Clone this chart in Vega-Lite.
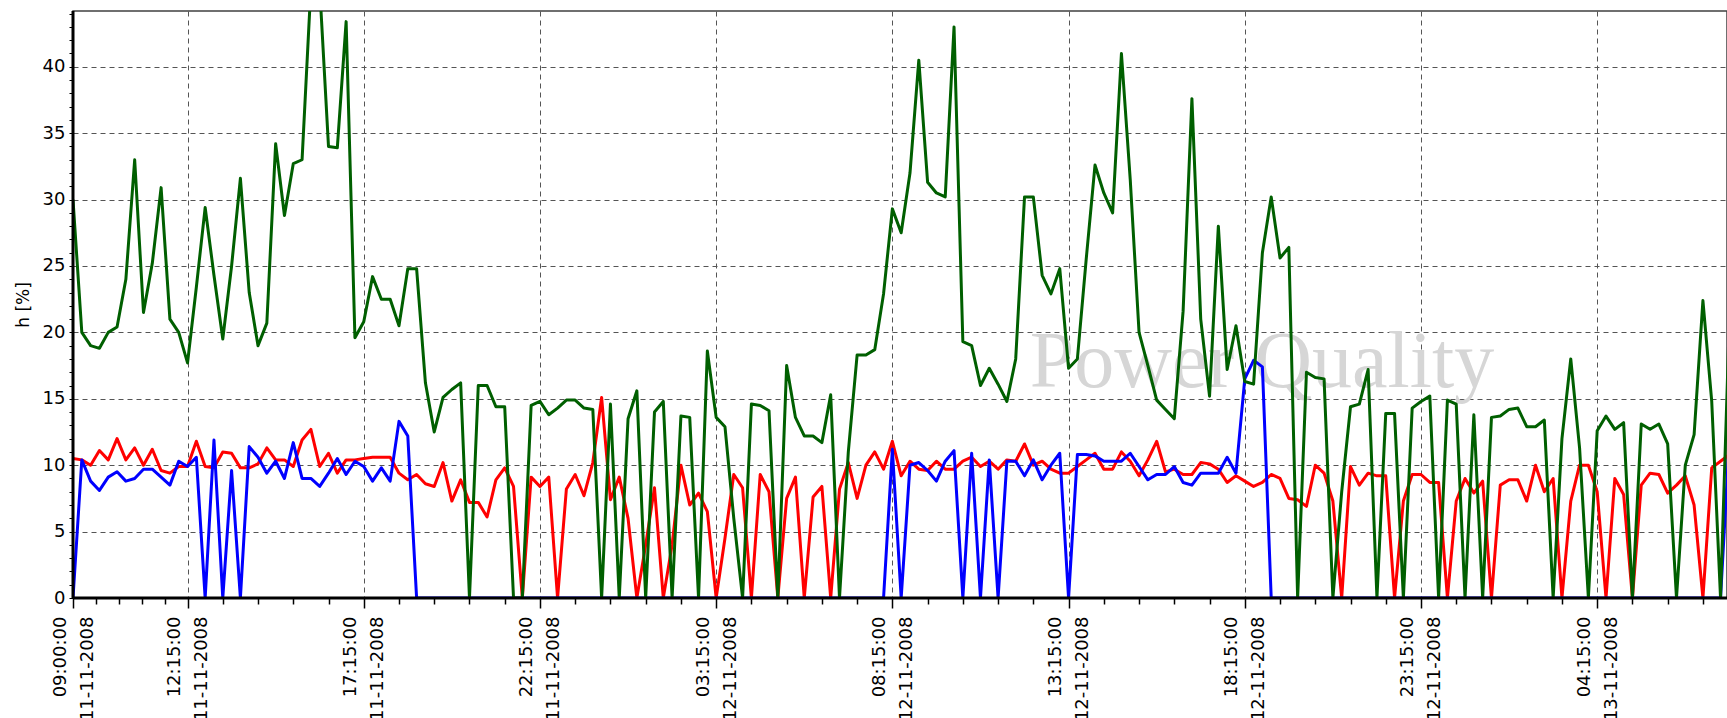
{
  "$schema": "https://vega.github.io/schema/vega-lite/v6.json",
  "width": 1654,
  "height": 587,
  "autosize": {"type": "none"},
  "padding": {"left": 73, "top": 11, "right": 0, "bottom": 120},
  "background": "white",
  "config": {"view": {"stroke": "#404040", "strokeWidth": 1.5}, "font": "DejaVu Sans"},
  "layer": [
    {
      "data": {"values": [{}]},
      "mark": {"type": "text", "text": "Power Quality", "font": "Liberation Serif", "fontSize": 80, "color": "#d6d6d6", "align": "left", "baseline": "alphabetic"},
      "encoding": {
        "x": {"datum": {"year": 2008, "month": 11, "date": 12, "hours": 12, "minutes": 9}, "type": "temporal", "scale": {"domain": [{"year": 2008, "month": 11, "date": 11, "hours": 9}, {"year": 2008, "month": 11, "date": 13, "hours": 7, "minutes": 56}]}},
        "y": {"datum": 15.9, "type": "quantitative", "scale": {"domain": [0, 44.2], "nice": false}}
      }
    },
    {
      "data": {"values": [
        {"t":"2008-11-11T09:00","g":30,"r":10.5,"b":0},
        {"t":"2008-11-11T09:15","g":20,"r":10.4,"b":10.4},
        {"t":"2008-11-11T09:30","g":19,"r":10.0,"b":8.8},
        {"t":"2008-11-11T09:45","g":18.8,"r":11.1,"b":8.1},
        {"t":"2008-11-11T10:00","g":20,"r":10.4,"b":9.1},
        {"t":"2008-11-11T10:15","g":20.4,"r":12.0,"b":9.5},
        {"t":"2008-11-11T10:30","g":24,"r":10.4,"b":8.8},
        {"t":"2008-11-11T10:45","g":33,"r":11.3,"b":9.0},
        {"t":"2008-11-11T11:00","g":21.5,"r":10.0,"b":9.7},
        {"t":"2008-11-11T11:15","g":25.2,"r":11.2,"b":9.7},
        {"t":"2008-11-11T11:30","g":30.9,"r":9.6,"b":9.1},
        {"t":"2008-11-11T11:45","g":21,"r":9.4,"b":8.5},
        {"t":"2008-11-11T12:00","g":20,"r":9.9,"b":10.3},
        {"t":"2008-11-11T12:15","g":17.7,"r":9.9,"b":9.9},
        {"t":"2008-11-11T12:30","g":23.4,"r":11.8,"b":10.6},
        {"t":"2008-11-11T12:45","g":29.4,"r":9.9,"b":0},
        {"t":"2008-11-11T13:00","g":24.3,"r":9.8,"b":11.9},
        {"t":"2008-11-11T13:15","g":19.5,"r":11.0,"b":0},
        {"t":"2008-11-11T13:30","g":25,"r":10.9,"b":9.6},
        {"t":"2008-11-11T13:45","g":31.6,"r":9.8,"b":0},
        {"t":"2008-11-11T14:00","g":23,"r":9.8,"b":11.4},
        {"t":"2008-11-11T14:15","g":19,"r":10.1,"b":10.6},
        {"t":"2008-11-11T14:30","g":20.7,"r":11.3,"b":9.4},
        {"t":"2008-11-11T14:45","g":34.2,"r":10.4,"b":10.3},
        {"t":"2008-11-11T15:00","g":28.8,"r":10.4,"b":9.0},
        {"t":"2008-11-11T15:15","g":32.7,"r":9.9,"b":11.7},
        {"t":"2008-11-11T15:30","g":33,"r":11.9,"b":9.0},
        {"t":"2008-11-11T15:45","g":46,"r":12.7,"b":9.0},
        {"t":"2008-11-11T16:00","g":46,"r":9.9,"b":8.4},
        {"t":"2008-11-11T16:15","g":34,"r":10.9,"b":9.4},
        {"t":"2008-11-11T16:30","g":33.9,"r":9.4,"b":10.5},
        {"t":"2008-11-11T16:45","g":43.4,"r":10.4,"b":9.3},
        {"t":"2008-11-11T17:00","g":19.6,"r":10.4,"b":10.3},
        {"t":"2008-11-11T17:15","g":20.8,"r":10.5,"b":9.9},
        {"t":"2008-11-11T17:30","g":24.2,"r":10.6,"b":8.8},
        {"t":"2008-11-11T17:45","g":22.5,"r":10.6,"b":9.8},
        {"t":"2008-11-11T18:00","g":22.5,"r":10.6,"b":8.8},
        {"t":"2008-11-11T18:15","g":20.5,"r":9.4,"b":13.3},
        {"t":"2008-11-11T18:30","g":24.8,"r":8.9,"b":12.2},
        {"t":"2008-11-11T18:45","g":24.8,"r":9.3,"b":0},
        {"t":"2008-11-11T19:00","g":16.2,"r":8.6,"b":0},
        {"t":"2008-11-11T19:15","g":12.5,"r":8.4,"b":0},
        {"t":"2008-11-11T19:30","g":15.1,"r":10.2,"b":0},
        {"t":"2008-11-11T19:45","g":15.7,"r":7.3,"b":0},
        {"t":"2008-11-11T20:00","g":16.2,"r":8.9,"b":0},
        {"t":"2008-11-11T20:15","g":0,"r":7.2,"b":0},
        {"t":"2008-11-11T20:30","g":16,"r":7.2,"b":0},
        {"t":"2008-11-11T20:45","g":16,"r":6.1,"b":0},
        {"t":"2008-11-11T21:00","g":14.4,"r":8.9,"b":0},
        {"t":"2008-11-11T21:15","g":14.4,"r":9.8,"b":0},
        {"t":"2008-11-11T21:30","g":0,"r":8.4,"b":0},
        {"t":"2008-11-11T21:45","g":0,"r":0,"b":0},
        {"t":"2008-11-11T22:00","g":14.5,"r":9.1,"b":0},
        {"t":"2008-11-11T22:15","g":14.8,"r":8.4,"b":0},
        {"t":"2008-11-11T22:30","g":13.8,"r":9.1,"b":0},
        {"t":"2008-11-11T22:45","g":14.3,"r":0,"b":0},
        {"t":"2008-11-11T23:00","g":14.9,"r":8.2,"b":0},
        {"t":"2008-11-11T23:15","g":14.9,"r":9.3,"b":0},
        {"t":"2008-11-11T23:30","g":14.3,"r":7.7,"b":0},
        {"t":"2008-11-11T23:45","g":14.2,"r":10.2,"b":0},
        {"t":"2008-11-12T00:00","g":0,"r":15.1,"b":0},
        {"t":"2008-11-12T00:15","g":14.6,"r":7.4,"b":0},
        {"t":"2008-11-12T00:30","g":0,"r":9.1,"b":0},
        {"t":"2008-11-12T00:45","g":13.5,"r":6,"b":0},
        {"t":"2008-11-12T01:00","g":15.6,"r":0,"b":0},
        {"t":"2008-11-12T01:15","g":0,"r":4,"b":0},
        {"t":"2008-11-12T01:30","g":14,"r":8.3,"b":0},
        {"t":"2008-11-12T01:45","g":14.8,"r":0,"b":0},
        {"t":"2008-11-12T02:00","g":0,"r":4,"b":0},
        {"t":"2008-11-12T02:15","g":13.7,"r":10,"b":0},
        {"t":"2008-11-12T02:30","g":13.6,"r":7,"b":0},
        {"t":"2008-11-12T02:45","g":0,"r":7.9,"b":0},
        {"t":"2008-11-12T03:00","g":18.6,"r":6.5,"b":0},
        {"t":"2008-11-12T03:15","g":13.6,"r":0,"b":0},
        {"t":"2008-11-12T03:30","g":12.9,"r":4.5,"b":0},
        {"t":"2008-11-12T03:45","g":6,"r":9.3,"b":0},
        {"t":"2008-11-12T04:00","g":0,"r":8.3,"b":0},
        {"t":"2008-11-12T04:15","g":14.6,"r":0,"b":0},
        {"t":"2008-11-12T04:30","g":14.5,"r":9.3,"b":0},
        {"t":"2008-11-12T04:45","g":14.1,"r":8,"b":0},
        {"t":"2008-11-12T05:00","g":0,"r":0,"b":0},
        {"t":"2008-11-12T05:15","g":17.5,"r":7.5,"b":0},
        {"t":"2008-11-12T05:30","g":13.6,"r":9.1,"b":0},
        {"t":"2008-11-12T05:45","g":12.2,"r":0,"b":0},
        {"t":"2008-11-12T06:00","g":12.2,"r":7.6,"b":0},
        {"t":"2008-11-12T06:15","g":11.7,"r":8.4,"b":0},
        {"t":"2008-11-12T06:30","g":15.3,"r":0,"b":0},
        {"t":"2008-11-12T06:45","g":0,"r":8.2,"b":0},
        {"t":"2008-11-12T07:00","g":11,"r":10.2,"b":0},
        {"t":"2008-11-12T07:15","g":18.3,"r":7.5,"b":0},
        {"t":"2008-11-12T07:30","g":18.3,"r":10,"b":0},
        {"t":"2008-11-12T07:45","g":18.7,"r":11,"b":0},
        {"t":"2008-11-12T08:00","g":22.9,"r":9.7,"b":0},
        {"t":"2008-11-12T08:15","g":29.3,"r":11.8,"b":11.2},
        {"t":"2008-11-12T08:30","g":27.5,"r":9.2,"b":0},
        {"t":"2008-11-12T08:45","g":32,"r":10.3,"b":10},
        {"t":"2008-11-12T09:00","g":40.5,"r":9.7,"b":10.2},
        {"t":"2008-11-12T09:15","g":31.3,"r":9.6,"b":9.6},
        {"t":"2008-11-12T09:30","g":30.5,"r":10.3,"b":8.8},
        {"t":"2008-11-12T09:45","g":30.2,"r":9.7,"b":10.3},
        {"t":"2008-11-12T10:00","g":43,"r":9.7,"b":11.1},
        {"t":"2008-11-12T10:15","g":19.3,"r":10.3,"b":0},
        {"t":"2008-11-12T10:30","g":19,"r":10.6,"b":10.9},
        {"t":"2008-11-12T10:45","g":16,"r":9.9,"b":0},
        {"t":"2008-11-12T11:00","g":17.3,"r":10.3,"b":10.4},
        {"t":"2008-11-12T11:15","g":16.1,"r":9.7,"b":0},
        {"t":"2008-11-12T11:30","g":14.8,"r":10.4,"b":10.3},
        {"t":"2008-11-12T11:45","g":18,"r":10.3,"b":10.3},
        {"t":"2008-11-12T12:00","g":30.2,"r":11.6,"b":9.2},
        {"t":"2008-11-12T12:15","g":30.2,"r":10,"b":10.4},
        {"t":"2008-11-12T12:30","g":24.3,"r":10.3,"b":8.9},
        {"t":"2008-11-12T12:45","g":22.9,"r":9.7,"b":10},
        {"t":"2008-11-12T13:00","g":24.8,"r":9.4,"b":10.9},
        {"t":"2008-11-12T13:15","g":17.3,"r":9.4,"b":0},
        {"t":"2008-11-12T13:30","g":18,"r":9.9,"b":10.8},
        {"t":"2008-11-12T13:45","g":25.5,"r":10.4,"b":10.8},
        {"t":"2008-11-12T14:00","g":32.6,"r":10.9,"b":10.7},
        {"t":"2008-11-12T14:15","g":30.5,"r":9.7,"b":10.3},
        {"t":"2008-11-12T14:30","g":29,"r":9.7,"b":10.3},
        {"t":"2008-11-12T14:45","g":41,"r":11,"b":10.3},
        {"t":"2008-11-12T15:00","g":31.5,"r":10.3,"b":10.9},
        {"t":"2008-11-12T15:15","g":20,"r":9.2,"b":9.9},
        {"t":"2008-11-12T15:30","g":17.5,"r":10.4,"b":8.9},
        {"t":"2008-11-12T15:45","g":14.9,"r":11.8,"b":9.3},
        {"t":"2008-11-12T16:00","g":14.2,"r":9.5,"b":9.3},
        {"t":"2008-11-12T16:15","g":13.5,"r":9.7,"b":9.9},
        {"t":"2008-11-12T16:30","g":21.6,"r":9.3,"b":8.7},
        {"t":"2008-11-12T16:45","g":37.6,"r":9.3,"b":8.5},
        {"t":"2008-11-12T17:00","g":21,"r":10.2,"b":9.4},
        {"t":"2008-11-12T17:15","g":15.2,"r":10.1,"b":9.4},
        {"t":"2008-11-12T17:30","g":28,"r":9.7,"b":9.4},
        {"t":"2008-11-12T17:45","g":17.2,"r":8.7,"b":10.6},
        {"t":"2008-11-12T18:00","g":20.5,"r":9.2,"b":9.4},
        {"t":"2008-11-12T18:15","g":16.3,"r":8.8,"b":16.5},
        {"t":"2008-11-12T18:30","g":16.1,"r":8.4,"b":17.9},
        {"t":"2008-11-12T18:45","g":26,"r":8.7,"b":17.4},
        {"t":"2008-11-12T19:00","g":30.2,"r":9.3,"b":0},
        {"t":"2008-11-12T19:15","g":25.6,"r":9,"b":0},
        {"t":"2008-11-12T19:30","g":26.4,"r":7.5,"b":0},
        {"t":"2008-11-12T19:45","g":0,"r":7.4,"b":0},
        {"t":"2008-11-12T20:00","g":17,"r":6.9,"b":0},
        {"t":"2008-11-12T20:15","g":16.6,"r":10,"b":0},
        {"t":"2008-11-12T20:30","g":16.5,"r":9.4,"b":0},
        {"t":"2008-11-12T20:45","g":0,"r":7.3,"b":0},
        {"t":"2008-11-12T21:00","g":8,"r":0,"b":0},
        {"t":"2008-11-12T21:15","g":14.4,"r":9.9,"b":0},
        {"t":"2008-11-12T21:30","g":14.6,"r":8.5,"b":0},
        {"t":"2008-11-12T21:45","g":17.2,"r":9.4,"b":0},
        {"t":"2008-11-12T22:00","g":0,"r":9.2,"b":0},
        {"t":"2008-11-12T22:15","g":13.9,"r":9.2,"b":0},
        {"t":"2008-11-12T22:30","g":13.9,"r":0,"b":0},
        {"t":"2008-11-12T22:45","g":0,"r":7.3,"b":0},
        {"t":"2008-11-12T23:00","g":14.3,"r":9.3,"b":0},
        {"t":"2008-11-12T23:15","g":14.8,"r":9.3,"b":0},
        {"t":"2008-11-12T23:30","g":15.2,"r":8.7,"b":0},
        {"t":"2008-11-12T23:45","g":0,"r":8.7,"b":0},
        {"t":"2008-11-13T00:00","g":14.9,"r":0,"b":0},
        {"t":"2008-11-13T00:15","g":14.6,"r":7.3,"b":0},
        {"t":"2008-11-13T00:30","g":0,"r":9,"b":0},
        {"t":"2008-11-13T00:45","g":13.8,"r":7.9,"b":0},
        {"t":"2008-11-13T01:00","g":0,"r":8.8,"b":0},
        {"t":"2008-11-13T01:15","g":13.6,"r":0,"b":0},
        {"t":"2008-11-13T01:30","g":13.7,"r":8.5,"b":0},
        {"t":"2008-11-13T01:45","g":14.2,"r":8.9,"b":0},
        {"t":"2008-11-13T02:00","g":14.3,"r":8.9,"b":0},
        {"t":"2008-11-13T02:15","g":12.9,"r":7.3,"b":0},
        {"t":"2008-11-13T02:30","g":12.9,"r":10,"b":0},
        {"t":"2008-11-13T02:45","g":13.4,"r":8,"b":0},
        {"t":"2008-11-13T03:00","g":0,"r":9,"b":0},
        {"t":"2008-11-13T03:15","g":12,"r":0,"b":0},
        {"t":"2008-11-13T03:30","g":18,"r":7.3,"b":0},
        {"t":"2008-11-13T03:45","g":11.3,"r":10,"b":0},
        {"t":"2008-11-13T04:00","g":0,"r":10,"b":0},
        {"t":"2008-11-13T04:15","g":12.6,"r":8,"b":0},
        {"t":"2008-11-13T04:30","g":13.7,"r":0,"b":0},
        {"t":"2008-11-13T04:45","g":12.7,"r":9,"b":0},
        {"t":"2008-11-13T05:00","g":13.2,"r":7.8,"b":0},
        {"t":"2008-11-13T05:15","g":0,"r":0,"b":0},
        {"t":"2008-11-13T05:30","g":13.1,"r":8.5,"b":0},
        {"t":"2008-11-13T05:45","g":12.7,"r":9.4,"b":0},
        {"t":"2008-11-13T06:00","g":13.1,"r":9.3,"b":0},
        {"t":"2008-11-13T06:15","g":11.6,"r":7.9,"b":0},
        {"t":"2008-11-13T06:30","g":0,"r":8.5,"b":0},
        {"t":"2008-11-13T06:45","g":10,"r":9.2,"b":0},
        {"t":"2008-11-13T07:00","g":12.3,"r":7,"b":0},
        {"t":"2008-11-13T07:15","g":22.4,"r":0,"b":0},
        {"t":"2008-11-13T07:30","g":14.8,"r":9.8,"b":0},
        {"t":"2008-11-13T07:45","g":0,"r":10.3,"b":0},
        {"t":"2008-11-13T08:00","g":21,"r":10.8,"b":12}
      ]},
      "encoding": {
        "x": {
          "field": "t", "type": "temporal",
          "scale": {"domain": [{"year": 2008, "month": 11, "date": 11, "hours": 9}, {"year": 2008, "month": 11, "date": 13, "hours": 7, "minutes": 56}]},
          "axis": {
            "title": null,
            "domain": false,
            "tickCount": 1000,
            "values": [
              {"year":2008,"month":11,"date":11,"hours":9,"minutes":0},
              {"year":2008,"month":11,"date":11,"hours":9,"minutes":39},
              {"year":2008,"month":11,"date":11,"hours":10,"minutes":18},
              {"year":2008,"month":11,"date":11,"hours":10,"minutes":57},
              {"year":2008,"month":11,"date":11,"hours":11,"minutes":36},
              {"year":2008,"month":11,"date":11,"hours":12,"minutes":15},
              {"year":2008,"month":11,"date":11,"hours":13,"minutes":15},
              {"year":2008,"month":11,"date":11,"hours":14,"minutes":15},
              {"year":2008,"month":11,"date":11,"hours":15,"minutes":15},
              {"year":2008,"month":11,"date":11,"hours":16,"minutes":15},
              {"year":2008,"month":11,"date":11,"hours":17,"minutes":15},
              {"year":2008,"month":11,"date":11,"hours":18,"minutes":15},
              {"year":2008,"month":11,"date":11,"hours":19,"minutes":15},
              {"year":2008,"month":11,"date":11,"hours":20,"minutes":15},
              {"year":2008,"month":11,"date":11,"hours":21,"minutes":15},
              {"year":2008,"month":11,"date":11,"hours":22,"minutes":15},
              {"year":2008,"month":11,"date":11,"hours":23,"minutes":15},
              {"year":2008,"month":11,"date":12,"hours":0,"minutes":15},
              {"year":2008,"month":11,"date":12,"hours":1,"minutes":15},
              {"year":2008,"month":11,"date":12,"hours":2,"minutes":15},
              {"year":2008,"month":11,"date":12,"hours":3,"minutes":15},
              {"year":2008,"month":11,"date":12,"hours":4,"minutes":15},
              {"year":2008,"month":11,"date":12,"hours":5,"minutes":15},
              {"year":2008,"month":11,"date":12,"hours":6,"minutes":15},
              {"year":2008,"month":11,"date":12,"hours":7,"minutes":15},
              {"year":2008,"month":11,"date":12,"hours":8,"minutes":15},
              {"year":2008,"month":11,"date":12,"hours":9,"minutes":15},
              {"year":2008,"month":11,"date":12,"hours":10,"minutes":15},
              {"year":2008,"month":11,"date":12,"hours":11,"minutes":15},
              {"year":2008,"month":11,"date":12,"hours":12,"minutes":15},
              {"year":2008,"month":11,"date":12,"hours":13,"minutes":15},
              {"year":2008,"month":11,"date":12,"hours":14,"minutes":15},
              {"year":2008,"month":11,"date":12,"hours":15,"minutes":15},
              {"year":2008,"month":11,"date":12,"hours":16,"minutes":15},
              {"year":2008,"month":11,"date":12,"hours":17,"minutes":15},
              {"year":2008,"month":11,"date":12,"hours":18,"minutes":15},
              {"year":2008,"month":11,"date":12,"hours":19,"minutes":15},
              {"year":2008,"month":11,"date":12,"hours":20,"minutes":15},
              {"year":2008,"month":11,"date":12,"hours":21,"minutes":15},
              {"year":2008,"month":11,"date":12,"hours":22,"minutes":15},
              {"year":2008,"month":11,"date":12,"hours":23,"minutes":15},
              {"year":2008,"month":11,"date":13,"hours":0,"minutes":15},
              {"year":2008,"month":11,"date":13,"hours":1,"minutes":15},
              {"year":2008,"month":11,"date":13,"hours":2,"minutes":15},
              {"year":2008,"month":11,"date":13,"hours":3,"minutes":15},
              {"year":2008,"month":11,"date":13,"hours":4,"minutes":15},
              {"year":2008,"month":11,"date":13,"hours":5,"minutes":15},
              {"year":2008,"month":11,"date":13,"hours":6,"minutes":15},
              {"year":2008,"month":11,"date":13,"hours":7,"minutes":15}
            ],
            "labelExpr": "((datum.value - datetime(2008,10,11,12,15)) % 18000000 === 0 || (datum.value - datetime(2008,10,11,9,0)) === 0) ? [timeFormat(datum.value, '%H:%M:%S'), timeFormat(datum.value, '%d-%m-%Y')] : ''",
            "labelAngle": -90,
            "labelAlign": "right",
            "labelBaseline": "middle",
            "labelFont": "DejaVu Sans",
            "labelFontSize": 18,
            "labelColor": "#000000",
            "labelLineHeight": 27,
            "labelOffset": -13,
            "labelPadding": 8,
            "labelOverlap": false,
            "labelFlush": false,
            "labelBound": false,
            "ticks": true,
            "tickColor": "#000000",
            "tickWidth": 1.5,
            "tickSize": {"condition": {"test": "(datum.value - datetime(2008,10,11,12,15)) % 18000000 === 0 || (datum.value - datetime(2008,10,11,9,0)) === 0", "value": 10}, "value": 6},
            "grid": true,
            "gridColor": "#555555",
            "gridDash": [5, 4],
            "gridWidth": 1,
            "gridOpacity": {"condition": {"test": "(datum.value - datetime(2008,10,11,12,15)) % 18000000 === 0", "value": 1}, "value": 0}
          }
        },
        "y": {
          "field": "r", "type": "quantitative",
          "scale": {"domain": [0, 44.2], "nice": false},
          "axis": {
            "title": "h [%]",
            "titleFont": "DejaVu Sans",
            "titleFontSize": 17,
            "titleFontWeight": "normal",
            "titleColor": "#000000",
            "titlePadding": 10,
            "domain": false,
            "tickCount": 1000,
            "values": [0,1,2,3,4,5,6,7,8,9,10,11,12,13,14,15,16,17,18,19,20,21,22,23,24,25,26,27,28,29,30,31,32,33,34,35,36,37,38,39,40,41,42,43,44],
            "labelExpr": "datum.value % 5 === 0 ? format(datum.value, 'd') : ''",
            "labelFont": "DejaVu Sans",
            "labelFontSize": 18,
            "labelColor": "#000000",
            "labelPadding": 4,
            "labelOverlap": false,
            "labelFlush": false,
            "tickColor": "#000000",
            "tickSize": 4,
            "tickWidth": 1,
            "grid": true,
            "gridColor": "#555555",
            "gridDash": [5, 4],
            "gridWidth": 1,
            "gridOpacity": {"condition": {"test": "datum.value % 5 === 0 && datum.value > 0", "value": 1}, "value": 0}
          }
        }
      },
      "layer": [
        {"mark": {"type": "line", "color": "#ff0000", "strokeWidth": 3, "strokeJoin": "round", "clip": true}},
        {"mark": {"type": "line", "color": "#0000ff", "strokeWidth": 3, "strokeJoin": "round", "clip": true},
         "encoding": {"y": {"field": "b", "type": "quantitative", "scale": {"domain": [0, 44.2], "nice": false}}}},
        {"mark": {"type": "line", "color": "#005f00", "strokeWidth": 3, "strokeJoin": "round", "clip": true},
         "encoding": {"y": {"field": "g", "type": "quantitative", "scale": {"domain": [0, 44.2], "nice": false}}}}
      ]
    },
    {
      "data": {"values": [{}]},
      "mark": {"type": "rule", "color": "#000000", "strokeWidth": 3},
      "encoding": {
        "y": {"datum": 0, "type": "quantitative", "scale": {"domain": [0, 44.2], "nice": false}}
      }
    },
    {
      "data": {"values": [{}]},
      "mark": {"type": "rule", "color": "#000000", "strokeWidth": 3},
      "encoding": {
        "x": {"datum": {"year": 2008, "month": 11, "date": 11, "hours": 9}, "type": "temporal", "scale": {"domain": [{"year": 2008, "month": 11, "date": 11, "hours": 9}, {"year": 2008, "month": 11, "date": 13, "hours": 7, "minutes": 56}]}}
      }
    }
  ]
}
